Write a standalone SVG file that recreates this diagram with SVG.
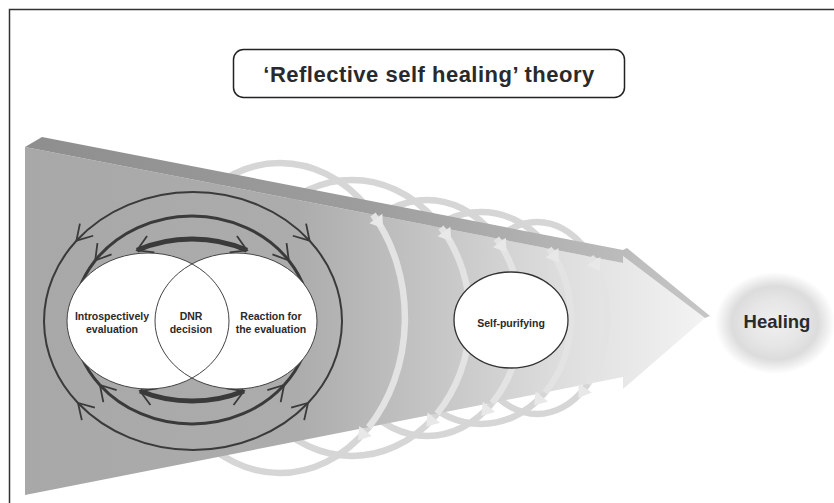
<svg xmlns="http://www.w3.org/2000/svg" width="834" height="503" viewBox="0 0 834 503">
<style>
.lbl{font-family:"Liberation Sans",Arial,sans-serif;font-weight:bold;fill:#2a2a2a;text-anchor:middle}
.dk{fill:none;stroke:#3a3a3a}
.loopB{fill:none;stroke:#d6d6d6;stroke-width:6.5}
.loopF{fill:none;stroke:#e3e3e3;stroke-width:6.5}
</style>
<defs>
<linearGradient id="faceG" gradientUnits="userSpaceOnUse" x1="25" y1="0" x2="705" y2="0">
<stop offset="0" stop-color="#a8a8a8"/><stop offset="0.4" stop-color="#acacac"/><stop offset="0.6" stop-color="#c5c5c5"/><stop offset="0.8" stop-color="#dfdfdf"/><stop offset="1" stop-color="#f3f3f3"/>
</linearGradient>
<linearGradient id="bevG" gradientUnits="userSpaceOnUse" x1="25" y1="0" x2="710" y2="0">
<stop offset="0" stop-color="#8e8e8e"/><stop offset="0.5" stop-color="#9d9d9d"/><stop offset="1" stop-color="#c6c6c6"/>
</linearGradient>
<radialGradient id="healG" cx="0.5" cy="0.5" r="0.5">
<stop offset="0" stop-color="#efefef"/><stop offset="0.45" stop-color="#e6e6e6"/><stop offset="0.72" stop-color="#dcdcdc"/><stop offset="1" stop-color="#ffffff"/>
</radialGradient>
<marker id="chev" viewBox="-20 -12 24 24" refX="0" refY="0" markerWidth="24" markerHeight="24" markerUnits="userSpaceOnUse" orient="auto">
<path d="M-15,-9 L0,0 L-15,9" fill="none" stroke="#3a3a3a" stroke-width="1.8"/>
</marker>
<marker id="larr" viewBox="-2 -10 22 20" refX="0" refY="0" markerWidth="22" markerHeight="20" markerUnits="userSpaceOnUse" orient="auto">
<path d="M5,-8 L17,0 L5,8 z" fill="#e8e8e8"/>
</marker>
</defs>

<rect x="9.5" y="9.5" width="900" height="600" fill="none" stroke="#333" stroke-width="1.5"/>

<g id="title">
<rect x="233.5" y="49.5" width="391" height="48" rx="10" fill="#fff" stroke="#222" stroke-width="1.5"/>
<text class="lbl" x="429" y="82" font-size="22" letter-spacing="0.5">‘Reflective self healing’ theory</text>
</g>

<g id="connectors">
<g id="coil-behind">
<ellipse class="loopB" cx="280" cy="318" rx="125" ry="155"/>
<ellipse class="loopB" cx="352" cy="318" rx="118" ry="138"/>
<ellipse class="loopB" cx="427" cy="318" rx="94" ry="118"/>
<ellipse class="loopB" cx="481" cy="318" rx="90" ry="106"/>
<ellipse class="loopB" cx="537" cy="318" rx="70" ry="96"/>
</g>
</g>

<g id="process-arrow">
<polygon points="25,147 623,263 623,256 705,318 623,389 623,377 25,495" fill="url(#faceG)"/>
<polygon points="25,147 42,137 623,250 627,248 710,316 705,318 623,256 623,263" fill="url(#bevG)"/>
</g>

<g id="connectors-front">
<g id="outer-cycle">
<path class="dk" stroke-width="2" d="M193,192 A149,129 0 0 0 76.4,240.7" marker-end="url(#chev)"/>
<path class="dk" stroke-width="2" d="M193,192 A149,129 0 0 1 309.6,240.7" marker-end="url(#chev)"/>
<path class="dk" stroke-width="2" d="M193,450 A149,129 0 0 1 78,403" marker-end="url(#chev)"/>
<path class="dk" stroke-width="2" d="M193,450 A149,129 0 0 0 308,403" marker-end="url(#chev)"/>
<path class="dk" stroke-width="2" d="M76.4,240.7 A149,129 0 0 0 78,403"/>
<path class="dk" stroke-width="2" d="M309.6,240.7 A149,129 0 0 1 308,403"/>
</g>
<g id="middle-cycle">
<path class="dk" stroke-width="3" d="M192,216 A118,104 0 0 0 95.2,260.5" marker-end="url(#chev)"/>
<path class="dk" stroke-width="3" d="M192,216 A118,104 0 0 1 288.8,260.5" marker-end="url(#chev)"/>
<path class="dk" stroke-width="3" d="M192,424 A118,104 0 0 1 99.9,385" marker-end="url(#chev)"/>
<path class="dk" stroke-width="3" d="M192,424 A118,104 0 0 0 284.1,385" marker-end="url(#chev)"/>
<path class="dk" stroke-width="3" d="M95.2,260.5 A118,104 0 0 0 99.9,385"/>
<path class="dk" stroke-width="3" d="M288.8,260.5 A118,104 0 0 1 284.1,385"/>
</g>
<g id="inner-cycle">
<path class="dk" stroke-width="5" d="M192,239 A108,81 0 0 0 137,250.3" marker-end="url(#chev)"/>
<path class="dk" stroke-width="5" d="M192,239 A108,81 0 0 1 247,250.3" marker-end="url(#chev)"/>
<path class="dk" stroke-width="5" d="M192,401 A108,81 0 0 1 140,391" marker-end="url(#chev)"/>
<path class="dk" stroke-width="5" d="M192,401 A108,81 0 0 0 244,391" marker-end="url(#chev)"/>
</g>
</g>

<g id="venn-fill">
<ellipse cx="148" cy="321" rx="81" ry="68" fill="#fff"/>
<ellipse cx="236" cy="321" rx="81" ry="68" fill="#fff"/>
</g>
<g id="introspectively-evaluation">
<ellipse cx="148" cy="321" rx="81" ry="68" fill="none" stroke="#444" stroke-width="1"/>
<text class="lbl" x="112" y="320" font-size="10.5">Introspectively</text>
<text class="lbl" x="112" y="333" font-size="10.5">evaluation</text>
</g>
<g id="reaction-for-evaluation">
<ellipse cx="236" cy="321" rx="81" ry="68" fill="none" stroke="#444" stroke-width="1"/>
<text class="lbl" x="271" y="320" font-size="10.5">Reaction for</text>
<text class="lbl" x="271" y="333" font-size="10.5">the evaluation</text>
</g>
<g id="dnr-decision">
<text class="lbl" x="191" y="320" font-size="10.5">DNR</text>
<text class="lbl" x="191" y="333" font-size="10.5">decision</text>
</g>

<g id="coil-front">
<path class="loopF" d="M373,214.5 A125,155 0 0 1 368.6,427.2" marker-start="url(#larr)" marker-end="url(#larr)"/>
<path class="loopF" d="M441,227.5 A118,138 0 0 1 437,413.7" marker-start="url(#larr)" marker-end="url(#larr)"/>
<path class="loopF" d="M496.5,238.5 A94,118 0 0 1 492.2,403" marker-start="url(#larr)" marker-end="url(#larr)"/>
<path class="loopF" d="M549,248.7 A90,106 0 0 1 545,392.5" marker-start="url(#larr)" marker-end="url(#larr)"/>
<path class="loopF" d="M591,256.8 A70,96 0 0 1 588,383.9" marker-start="url(#larr)" marker-end="url(#larr)"/>
</g>

<g id="self-purifying">
<ellipse cx="511" cy="320" rx="57" ry="48" fill="#fff" stroke="#333" stroke-width="1.3"/>
<text class="lbl" x="511" y="327" font-size="10.5">Self-purifying</text>
</g>

<g id="healing">
<ellipse cx="775" cy="323" rx="60" ry="51" fill="url(#healG)"/>
<text class="lbl" x="777" y="328" font-size="18.5" fill="#333">Healing</text>
</g>
</svg>
